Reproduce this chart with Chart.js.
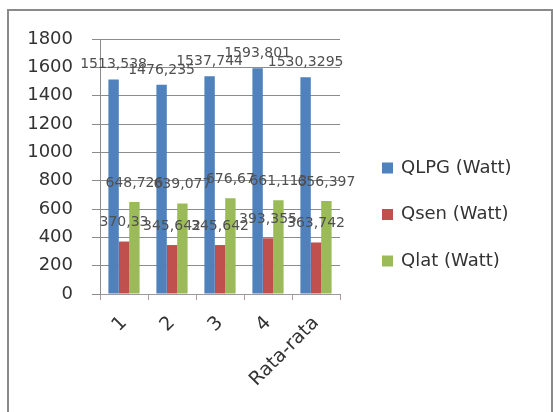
<!DOCTYPE html>
<html><head><meta charset="utf-8">
<script src="https://cdn.jsdelivr.net/npm/chart.js@4/dist/chart.umd.min.js"></script>
<style>html,body{margin:0;padding:0;background:#fff;}#wrap{width:553px;height:412px;position:relative}</style>
</head><body><div id="wrap"><canvas id="c" width="553" height="412"></canvas></div>
<script>
const categories = ['1', '2', '3', '4', 'Rata-rata'];
const seriesNames = ['QLPG (Watt)', 'Qsen (Watt)', 'Qlat (Watt)'];
const qlpg = [1513.538, 1476.235, 1537.744, 1593.801, 1530.3295];
const qsen = [370.33, 345.642, 345.642, 393.355, 363.742];
const qlat = [648.726, 639.077, 676.67, 661.113, 656.397];
const yMin = 0, yMax = 1800, yStep = 200;

const colors = ['#4F81BD', '#C0504D', '#9BBB59'];
const FONT = '"DejaVu Sans", sans-serif';

const framePlugin = {
  id: 'frame',
  beforeDraw(chart) {
    const ctx = chart.ctx;
    ctx.save();
    ctx.fillStyle = '#fff';
    ctx.fillRect(0, 0, chart.width, chart.height);
    ctx.strokeStyle = '#8a8a8a';
    ctx.lineWidth = 2;
    ctx.beginPath();
    ctx.moveTo(8, 420); ctx.lineTo(8, 10); ctx.lineTo(552, 10); ctx.lineTo(552, 420);
    ctx.stroke();
    ctx.restore();
  }
};

const labelPlugin = {
  id: 'valLabels',
  afterDatasetsDraw(chart) {
    const ctx = chart.ctx;
    const offsets = [15, 19, 19];
    ctx.save();
    ctx.font = '14px ' + FONT;
    ctx.fillStyle = '#505050';
    ctx.textAlign = 'center';
    ctx.textBaseline = 'middle';
    chart.data.datasets.forEach((ds, i) => {
      const meta = chart.getDatasetMeta(i);
      meta.data.forEach((el, j) => {
        const txt = String(ds.data[j]).replace('.', ',');
        ctx.fillText(txt, el.x, el.y - offsets[i]);
      });
    });
    ctx.restore();
  }
};

const legendPlugin = {
  id: 'sideLegend',
  afterDraw(chart) {
    const ctx = chart.ctx;
    ctx.save();
    ctx.font = '18px ' + FONT;
    ctx.textBaseline = 'middle';
    ctx.textAlign = 'left';
    chart.data.datasets.forEach((ds, i) => {
      const y = 168 + i * 46.5;
      ctx.fillStyle = ds.backgroundColor;
      ctx.fillRect(382, y - 5.5, 11, 11);
      ctx.fillStyle = '#333';
      ctx.fillText(ds.label, 401, y);
    });
    ctx.restore();
  }
};

new Chart(document.getElementById('c'), {
  type: 'bar',
  data: {
    labels: categories,
    datasets: [
      { label: seriesNames[0], data: qlpg, backgroundColor: colors[0] },
      { label: seriesNames[1], data: qsen, backgroundColor: colors[1] },
      { label: seriesNames[2], data: qlat, backgroundColor: colors[2] }
    ]
  },
  options: {
    responsive: false,
    animation: false,
    devicePixelRatio: 1,
    layout: { padding: { top: 39, right: 213, bottom: 0, left: 0 } },
    datasets: { bar: { categoryPercentage: 0.65, barPercentage: 1.0 } },
    plugins: { legend: { display: false }, tooltip: { enabled: false } },
    scales: {
      x: {
        grid: { display: true, drawOnChartArea: false, drawTicks: true, tickLength: 6, color: '#a89a9a', offset: true },
        border: { color: '#9a9a9a', width: 1 },
        ticks: { minRotation: 45, maxRotation: 45, color: '#333', font: { size: 19, family: FONT }, padding: 12 },
        afterFit(s) { s.height = 118; }
      },
      y: {
        min: yMin, max: yMax,
        ticks: { stepSize: yStep, color: '#333', font: { size: 18, family: FONT }, padding: 19, callback: v => String(v) },
        grid: { color: '#8c8c8c', tickLength: 8 },
        border: { color: '#8c8c8c' },
        afterFit(s) { s.width = 100; }
      }
    }
  },
  plugins: [framePlugin, labelPlugin, legendPlugin]
});
</script></body></html>
